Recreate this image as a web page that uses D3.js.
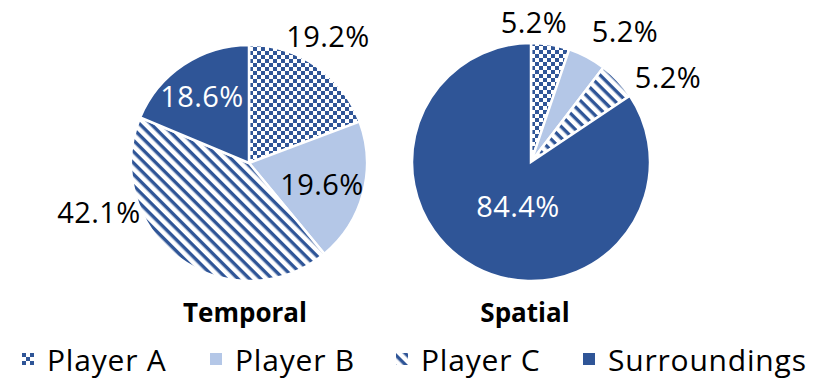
<!DOCTYPE html>
<html>
<head>
<meta charset="utf-8">
<script src="https://cdn.jsdelivr.net/npm/d3@7"></script>
<style>
  body { margin: 0; background: #fff; }
  svg text { font-family: "Open Sans", Lato, sans-serif; }
</style>
</head>
<body>
<div id="chart"></div>
<script>
// data
const categories = ["Player A", "Player B", "Player C", "Surroundings"];
const temporalValues = [19.2, 19.6, 42.1, 18.6];
const spatialValues = [5.2, 5.2, 5.2, 84.4];
const chartTitles = ["Temporal", "Spatial"];

const darkBlue = "#2f5597";
const lightBlue = "#b4c7e7";

const svg = d3.select('#chart').append('svg')
    .attr('width', 821)
    .attr('height', 379);

const defs = svg.append('defs');

// checkerboard for Player A
const checker = defs.append('pattern')
    .attr('id', 'checker')
    .attr('patternUnits', 'userSpaceOnUse')
    .attr('width', 8).attr('height', 8);
checker.append('rect').attr('width', 8).attr('height', 8).attr('fill', '#fff');
checker.append('rect').attr('width', 4).attr('height', 4).attr('fill', darkBlue);
checker.append('rect').attr('x', 4).attr('y', 4).attr('width', 4).attr('height', 4).attr('fill', darkBlue);

// diagonal stripes for Player C (top-left to bottom-right)
const stripes = defs.append('pattern')
    .attr('id', 'stripes')
    .attr('patternUnits', 'userSpaceOnUse')
    .attr('width', 8).attr('height', 8)
    .attr('patternTransform', 'rotate(45)');
stripes.append('rect').attr('width', 8).attr('height', 8).attr('fill', '#fff');
stripes.append('rect').attr('width', 8).attr('height', 3.4).attr('fill', darkBlue);

const fills = d3.scaleOrdinal()
    .domain(categories)
    .range(['url(#checker)', lightBlue, 'url(#stripes)', darkBlue]);

const pie = d3.pie().sort(null).value(d => d.value);

const charts = [
    { title: chartTitles[0], values: temporalValues, cx: 249, cy: 163, r: 118, tx: 245,
      labels: [[328, 47, '#000'], [322, 195, '#000'], [99, 223, '#000'], [202, 107, '#fff']] },
    { title: chartTitles[1], values: spatialValues, cx: 531, cy: 162, r: 119, tx: 525,
      labels: [[534, 33, '#000'], [625, 42, '#000'], [668, 88, '#000'], [518, 217, '#fff']] }
];

charts.forEach(c => {
    const data = categories.map((k, i) => ({ key: k, value: c.values[i] }));
    const arc = d3.arc().innerRadius(0).outerRadius(c.r);
    const g = svg.append('g').attr('transform', `translate(${c.cx},${c.cy})`);

    g.selectAll('path')
        .data(pie(data))
        .join('path')
        .attr('d', arc)
        .attr('fill', d => fills(d.data.key))
        .attr('stroke', '#fff')
        .attr('stroke-width', 2.5);

    svg.append('g').selectAll('text')
        .data(data)
        .join('text')
        .attr('x', (d, i) => c.labels[i][0])
        .attr('y', (d, i) => c.labels[i][1])
        .attr('text-anchor', 'middle')
        .attr('font-size', 29)
        .attr('letter-spacing', 0.4)
        .attr('fill', (d, i) => c.labels[i][2])
        .text(d => d.value.toFixed(1) + '%');

    svg.append('text')
        .attr('x', c.tx)
        .attr('y', 322)
        .attr('text-anchor', 'middle')
        .attr('font-size', 26)
        .attr('font-weight', 'bold')
        .attr('fill', '#000')
        .text(c.title);
});

// legend
const legendX = [22, 210, 396, 583];
const legend = svg.append('g').selectAll('g')
    .data(categories)
    .join('g')
    .attr('transform', (d, i) => `translate(${legendX[i]},353)`);

legend.append('rect')
    .attr('width', 12).attr('height', 12)
    .attr('fill', d => fills(d));

legend.append('text')
    .attr('x', 25)
    .attr('y', 18)
    .attr('font-size', 30)
    .attr('letter-spacing', 0.8)
    .attr('fill', '#000')
    .text(d => d);
</script>
</body>
</html>
